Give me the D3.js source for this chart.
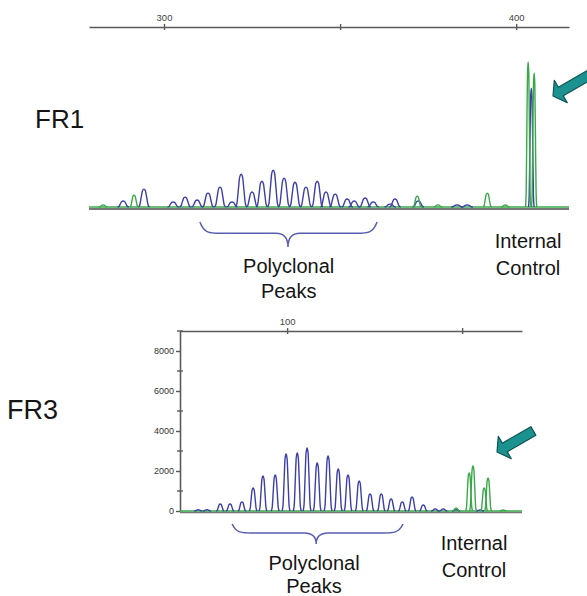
<!DOCTYPE html>
<html>
<head>
<meta charset="utf-8">
<script src="https://cdn.jsdelivr.net/npm/d3@7"></script>
<style>
  body { margin: 0; background: #fff; }
  text { font-family: "Liberation Sans", Arial, sans-serif; }
</style>
</head>
<body>
<svg width="587" height="596"></svg>
<script>
// FR1 panel (size in bp, height in RFU)
var fr1Ticks = [300, 350, 400];
var fr1TickLabels = ["300", "", "400"];
var fr1BluePos = [288.4, 294.3, 302.6, 306.0, 309.4, 312.5, 315.9, 319.3, 321.9, 325.0, 327.8, 331.0, 334.1, 337.2, 340.3, 343.5, 346.0, 348.6, 352.0, 354.0, 357.1, 359.4, 364.2, 365.6, 372.2, 383.2, 386.1, 404.3];
var fr1BlueHt = [410, 1230, 340, 680, 480, 960, 1370, 340, 2260, 1030, 1780, 2530, 1990, 1710, 1370, 1780, 1030, 890, 550, 410, 620, 340, 200, 550, 410, 140, 140, 8200];
var fr1GreenPos = [282.7, 291.5, 371.9, 377.8, 391.8, 396.9, 403.4, 405.1];
var fr1GreenHt = [140, 820, 750, 140, 960, 140, 10000, 9250];

// FR3 panel
var fr3Ticks = [100, 150];
var fr3TickLabels = ["100", ""];
var fr3YTicks = [0, 2000, 4000, 6000, 8000];
var fr3YMinor = [1000, 3000, 5000, 7000, 9000];
var fr3BluePos = [74.6, 77.1, 80.9, 83.7, 87.1, 90.3, 93.1, 96.6, 99.7, 102.9, 105.7, 108.6, 111.7, 114.6, 117.4, 120.6, 123.7, 126.9, 129.7, 132.9, 135.7, 138.9, 142.3, 144.6, 148.3, 155.1];
var fr3BlueHt = [60, 60, 350, 350, 450, 1150, 1750, 1800, 2850, 2900, 3150, 2400, 2750, 2100, 1800, 1500, 850, 850, 600, 450, 700, 300, 100, 100, 60, 50];
var fr3GreenPos = [148.3, 152.0, 153.1, 156.3, 157.4, 161.7];
var fr3GreenHt = [150, 1900, 2250, 1150, 1650, 50];

var blue = "#3c3fa6", green = "#3aa84a", axisGrey = "#5a5a5a", ink = "#151515";
var braceCol = "#5a5eb2", arrowFill = "#1b9190", arrowEdge = "#0d5552";

var svg = d3.select("svg");

// one peak glyph, drawn from its position and height
var peakShape = [[-1, 0], [-0.75, 0.1], [-0.5, 0.52], [-0.25, 0.92], [0, 1], [0.25, 0.92], [0.5, 0.52], [0.75, 0.1], [1, 0]];
function peakPath(x, y, pos, ht, hw) {
    return d3.line().curve(d3.curveMonotoneX)(peakShape.map(function (s) {
        return [x(pos + s[0] * hw), y(s[1] * ht)];
    }));
}

function drawPeaks(g, x, y, pos, ht, col, hwFn, sw) {
    g.selectAll(null)
        .data(pos.map(function (p, i) { return {p: p, h: ht[i]}; }))
        .enter().append("path")
        .attr("d", function (d) { return peakPath(x, y, d.p, d.h, hwFn(d)); })
        .attr("fill", "none")
        .attr("stroke", col)
        .attr("stroke-width", sw)
        .attr("stroke-linejoin", "round");
}

function brace(x0, x1, xm, yTop, depth) {
    var yb = yTop + depth * 0.45;
    return "M" + x0 + "," + yTop +
        " C" + (x0 + 4) + "," + yb + " " + (x0 + 10) + "," + yb + " " + (x0 + 20) + "," + yb +
        " L" + (xm - 12) + "," + yb +
        " C" + (xm - 4) + "," + yb + " " + xm + "," + (yb + 4) + " " + xm + "," + (yTop + depth) +
        " C" + xm + "," + (yb + 4) + " " + (xm + 4) + "," + yb + " " + (xm + 12) + "," + yb +
        " L" + (x1 - 20) + "," + yb +
        " C" + (x1 - 10) + "," + yb + " " + (x1 - 4) + "," + yb + " " + x1 + "," + yTop;
}

function arrow(tx, ty, len, angle) {
    var pts = [[0, 0], [9, -13], [9, -5], [len, -5], [len, 5], [9, 5], [9, 13]];
    svg.append("polygon")
        .attr("points", pts.map(function (p) { return p.join(","); }).join(" "))
        .attr("transform", "translate(" + tx + "," + ty + ") rotate(" + angle + ")")
        .attr("fill", arrowFill)
        .attr("stroke", arrowEdge)
        .attr("stroke-width", 1.2)
        .attr("stroke-linejoin", "round");
}

function label(x, y, lines, size, dy) {
    var t = svg.append("text")
        .attr("x", x).attr("y", y)
        .attr("text-anchor", "middle")
        .attr("font-size", size)
        .attr("fill", ink);
    lines.forEach(function (s, i) {
        t.append("tspan").attr("x", x).attr("dy", i ? dy : 0).text(s);
    });
}

// ---------- FR1 ----------
var x1 = d3.scaleLinear().domain([278.7, 415]).range([89, 569]);
var y1 = d3.scaleLinear().domain([0, 10000]).range([207, 62]);

var ax1 = svg.append("g")
    .attr("transform", "translate(0,27)")
    .call(d3.axisTop(x1).tickValues(fr1Ticks).tickSizeInner(3).tickSizeOuter(0)
        .tickFormat(function (d, i) { return fr1TickLabels[i]; }));
ax1.select(".domain").attr("stroke", axisGrey).attr("stroke-width", 1.6);
ax1.selectAll(".tick line").attr("stroke", axisGrey).attr("stroke-width", 1.4).attr("y2", -3).attr("y1", 3);
ax1.selectAll(".tick text").attr("font-size", 9.5).attr("fill", "#444").attr("y", -6)
    .style("font-family", "Liberation Sans, Arial, sans-serif");

svg.append("line").attr("x1", 89).attr("x2", 569).attr("y1", 209).attr("y2", 209)
    .attr("stroke", "#777").attr("stroke-width", 2);
svg.append("line").attr("x1", 89).attr("x2", 569).attr("y1", y1(0)).attr("y2", y1(0))
    .attr("stroke", green).attr("stroke-width", 1.3);

var g1 = svg.append("g");
drawPeaks(g1, x1, y1, fr1BluePos, fr1BlueHt, blue, function (d) { return d.h > 5000 ? 0.8 : 1.6; }, 1.4);
drawPeaks(g1, x1, y1, fr1GreenPos, fr1GreenHt, green, function (d) { return d.h > 5000 ? 0.75 : 1.2; }, 1.4);

svg.append("text").attr("x", 35).attr("y", 128).attr("font-size", 26).attr("fill", ink).text("FR1");

svg.append("path").attr("d", brace(x1(310.2), x1(360.5), x1(335.2), 222, 25))
    .attr("fill", "none").attr("stroke", braceCol).attr("stroke-width", 1.5);
label(x1(335.4), 273, ["Polyclonal", "Peaks"], 20, 25);
label(528, 248, ["Internal", "Control"], 20, 27);
arrow(553, 96, 50, -30);

// ---------- FR3 ----------
var x3 = d3.scaleLinear().domain([69.4, 167.1]).range([180, 522]);
var y3 = d3.scaleLinear().domain([0, 9000]).range([511, 331]);

var ax3 = svg.append("g")
    .attr("transform", "translate(0,331)")
    .call(d3.axisTop(x3).tickValues(fr3Ticks).tickSizeInner(3).tickSizeOuter(0)
        .tickFormat(function (d, i) { return fr3TickLabels[i]; }));
ax3.select(".domain").attr("stroke", axisGrey).attr("stroke-width", 1.6);
ax3.selectAll(".tick line").attr("stroke", axisGrey).attr("stroke-width", 1.4).attr("y2", -3).attr("y1", 3);
ax3.selectAll(".tick text").attr("font-size", 9.5).attr("fill", "#444").attr("y", -6)
    .style("font-family", "Liberation Sans, Arial, sans-serif");

var ay3 = svg.append("g")
    .attr("transform", "translate(180,0)")
    .call(d3.axisLeft(y3).tickValues(fr3YTicks).tickSizeInner(4).tickSizeOuter(0).tickPadding(2)
        .tickFormat(d3.format("d")));
ay3.select(".domain").attr("stroke", axisGrey).attr("stroke-width", 1.6);
ay3.selectAll(".tick line").attr("stroke", axisGrey).attr("stroke-width", 1.4);
ay3.selectAll(".tick text").attr("font-size", 9).attr("fill", "#333")
    .style("font-family", "Liberation Sans, Arial, sans-serif");
ay3.selectAll(".minor")
    .data(fr3YMinor).enter().append("line")
    .attr("x1", -3).attr("x2", 3)
    .attr("y1", function (d) { return y3(d); }).attr("y2", function (d) { return y3(d); })
    .attr("stroke", axisGrey).attr("stroke-width", 1.4);

svg.append("line").attr("x1", 180).attr("x2", 522).attr("y1", 512.5).attr("y2", 512.5)
    .attr("stroke", "#777").attr("stroke-width", 1.6);
svg.append("line").attr("x1", 180).attr("x2", 522).attr("y1", y3(0)).attr("y2", y3(0))
    .attr("stroke", green).attr("stroke-width", 1.6);

var g3 = svg.append("g");
drawPeaks(g3, x3, y3, fr3BluePos, fr3BlueHt, blue, function () { return 1.15; }, 1.4);
drawPeaks(g3, x3, y3, fr3GreenPos, fr3GreenHt, green, function () { return 1.0; }, 1.4);

svg.append("text").attr("x", 7).attr("y", 419).attr("font-size", 27).attr("fill", ink).text("FR3");

svg.append("path").attr("d", brace(x3(84.3), x3(133.1), x3(108.3), 524, 20))
    .attr("fill", "none").attr("stroke", braceCol).attr("stroke-width", 1.5);
label(x3(107.7), 570, ["Polyclonal", "Peaks"], 20, 23);
label(474, 550, ["Internal", "Control"], 20, 27);
arrow(497, 452, 42, -30);
</script>
</body>
</html>
